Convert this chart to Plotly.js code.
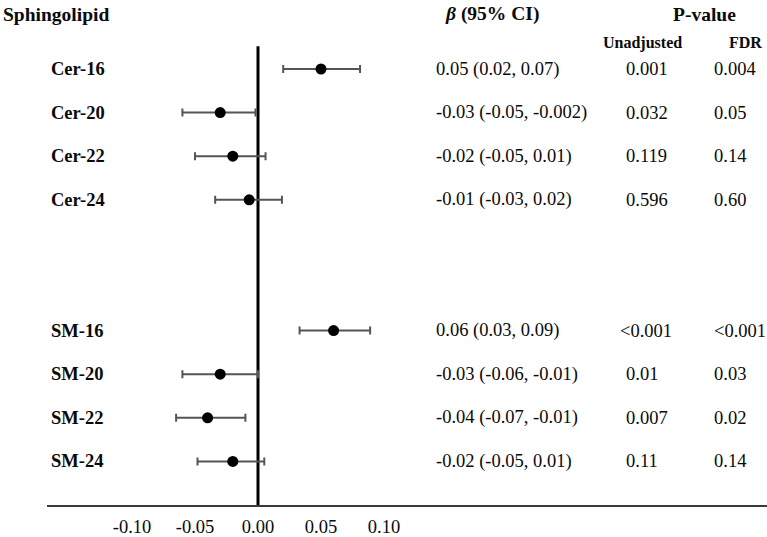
<!DOCTYPE html>
<html>
<head>
<meta charset="utf-8">
<script src="https://cdn.plot.ly/plotly-3.0.1.min.js"></script>
<style>html,body{margin:0;padding:0;background:#fff;}#chart{width:767px;height:537px;}</style>
</head>
<body>
<div id="chart"></div>
<script>
// ---- data ----
const labels = ['Cer-16','Cer-20','Cer-22','Cer-24','SM-16','SM-20','SM-22','SM-24'];
const estimate = [0.05, -0.03, -0.02, -0.007, 0.06, -0.03, -0.04, -0.02];
const lowerCI  = [0.02, -0.06, -0.05, -0.034, 0.033, -0.06, -0.065, -0.048];
const upperCI  = [0.081, -0.002, 0.006, 0.019, 0.089, 0.0, -0.01, 0.005];
const betaText = ['0.05 (0.02, 0.07)','-0.03 (-0.05, -0.002)','-0.02 (-0.05, 0.01)','-0.01 (-0.03, 0.02)',
                  '0.06 (0.03, 0.09)','-0.03 (-0.06, -0.01)','-0.04 (-0.07, -0.01)','-0.02 (-0.05, 0.01)'];
const pUnadjusted = ['0.001','0.032','0.119','0.596','&lt;0.001','0.01','0.007','0.11'];
const pFDR = ['0.004','0.05','0.14','0.60','&lt;0.001','0.03','0.02','0.14'];
const tickVals = [-0.10, -0.05, 0.00, 0.05, 0.10];
const tickLabels = ['-0.10','-0.05','0.00','0.05','0.10'];

// ---- layout helpers ----
const W = 767, H = 537, L = 47, B = 32;
const plotW = W - L, plotH = H - B;
const px = x => (x - L) / plotW;          // pixel x -> paper
const py = y => (plotH - y) / plotH;      // pixel y -> paper
const rows = labels.map((_, i) => i + (i >= 4 ? 2 : 0));
const FONT = 'Liberation Serif, Times New Roman, serif';
const txt = '#0a0a0a';
const DS = 18.5;

const trace = {
  type: 'scatter', mode: 'markers',
  x: estimate, y: rows,
  marker: {color: '#000', size: 11},
  error_x: {
    type: 'data', symmetric: false,
    array: estimate.map((e, i) => upperCI[i] - e),
    arrayminus: estimate.map((e, i) => e - lowerCI[i]),
    color: '#555', thickness: 2, width: 4
  },
  hoverinfo: 'skip', showlegend: false
};

const ann = [];
const add = (o) => ann.push(Object.assign({showarrow: false, font: {family: FONT, size: DS, color: txt}}, o));

// headers
add({text: '<b>Sphingolipid</b>', xref: 'paper', yref: 'paper', x: px(1), y: py(14), xanchor: 'left', yanchor: 'middle', font: {family: FONT, size: 19.5, color: txt}});
add({text: '<b><i>β</i> (95% CI)</b>', xref: 'paper', yref: 'paper', x: px(443), y: py(14), xanchor: 'left', yanchor: 'middle', font: {family: FONT, size: 19.5, color: txt}});
add({text: '<b>P-value</b>', xref: 'paper', yref: 'paper', x: px(704), y: py(14), xanchor: 'center', yanchor: 'middle', font: {family: FONT, size: 19.5, color: txt}});
add({text: '<b>Unadjusted</b>', xref: 'paper', yref: 'paper', x: px(642), y: py(43), xanchor: 'center', yanchor: 'middle', font: {family: FONT, size: 16, color: txt}});
add({text: '<b>FDR</b>', xref: 'paper', yref: 'paper', x: px(745), y: py(43), xanchor: 'center', yanchor: 'middle', font: {family: FONT, size: 16, color: txt}});

labels.forEach((lab, i) => {
  add({text: '<b>' + lab + '</b>', xref: 'paper', yref: 'y', x: px(49), y: rows[i], xanchor: 'left', yanchor: 'middle'});
  add({text: betaText[i], xref: 'paper', yref: 'y', x: px(434), y: rows[i], xanchor: 'left', yanchor: 'middle'});
  add({text: pUnadjusted[i], xref: 'paper', yref: 'y', x: px(pUnadjusted[i].startsWith('&lt;') ? 618 : 624), y: rows[i], xanchor: 'left', yanchor: 'middle'});
  add({text: pFDR[i], xref: 'paper', yref: 'y', x: px(712), y: rows[i], xanchor: 'left', yanchor: 'middle'});
});

const x0 = 258, scale = 1260;   // pixel of zero, px per unit
const layout = {
  width: W, height: H,
  margin: {l: L, r: 0, t: 0, b: B, pad: 0},
  paper_bgcolor: '#fff', plot_bgcolor: '#fff',
  xaxis: {
    range: [(L - x0) / scale, (W - x0) / scale],
    tickvals: tickVals, ticktext: tickLabels,
    showgrid: false, zeroline: false, ticks: '',
    showline: true, linecolor: '#3a3a3a', linewidth: 2,
    tickfont: {family: FONT, size: DS, color: txt},
    ticklabelstandoff: 4,
    automargin: false, fixedrange: true
  },
  yaxis: {
    range: [10, -69 / 43.6],
    showgrid: false, zeroline: false, showticklabels: false, ticks: '',
    showline: false, automargin: false, fixedrange: true
  },
  shapes: [
    {type: 'line', xref: 'x', yref: 'y', x0: 0, x1: 0, y0: -0.52, y1: 10, line: {color: '#000', width: 3}, layer: 'below'}
  ],
  annotations: ann
};

Plotly.newPlot('chart', [trace], layout, {displayModeBar: false, staticPlot: true});
</script>
</body>
</html>
